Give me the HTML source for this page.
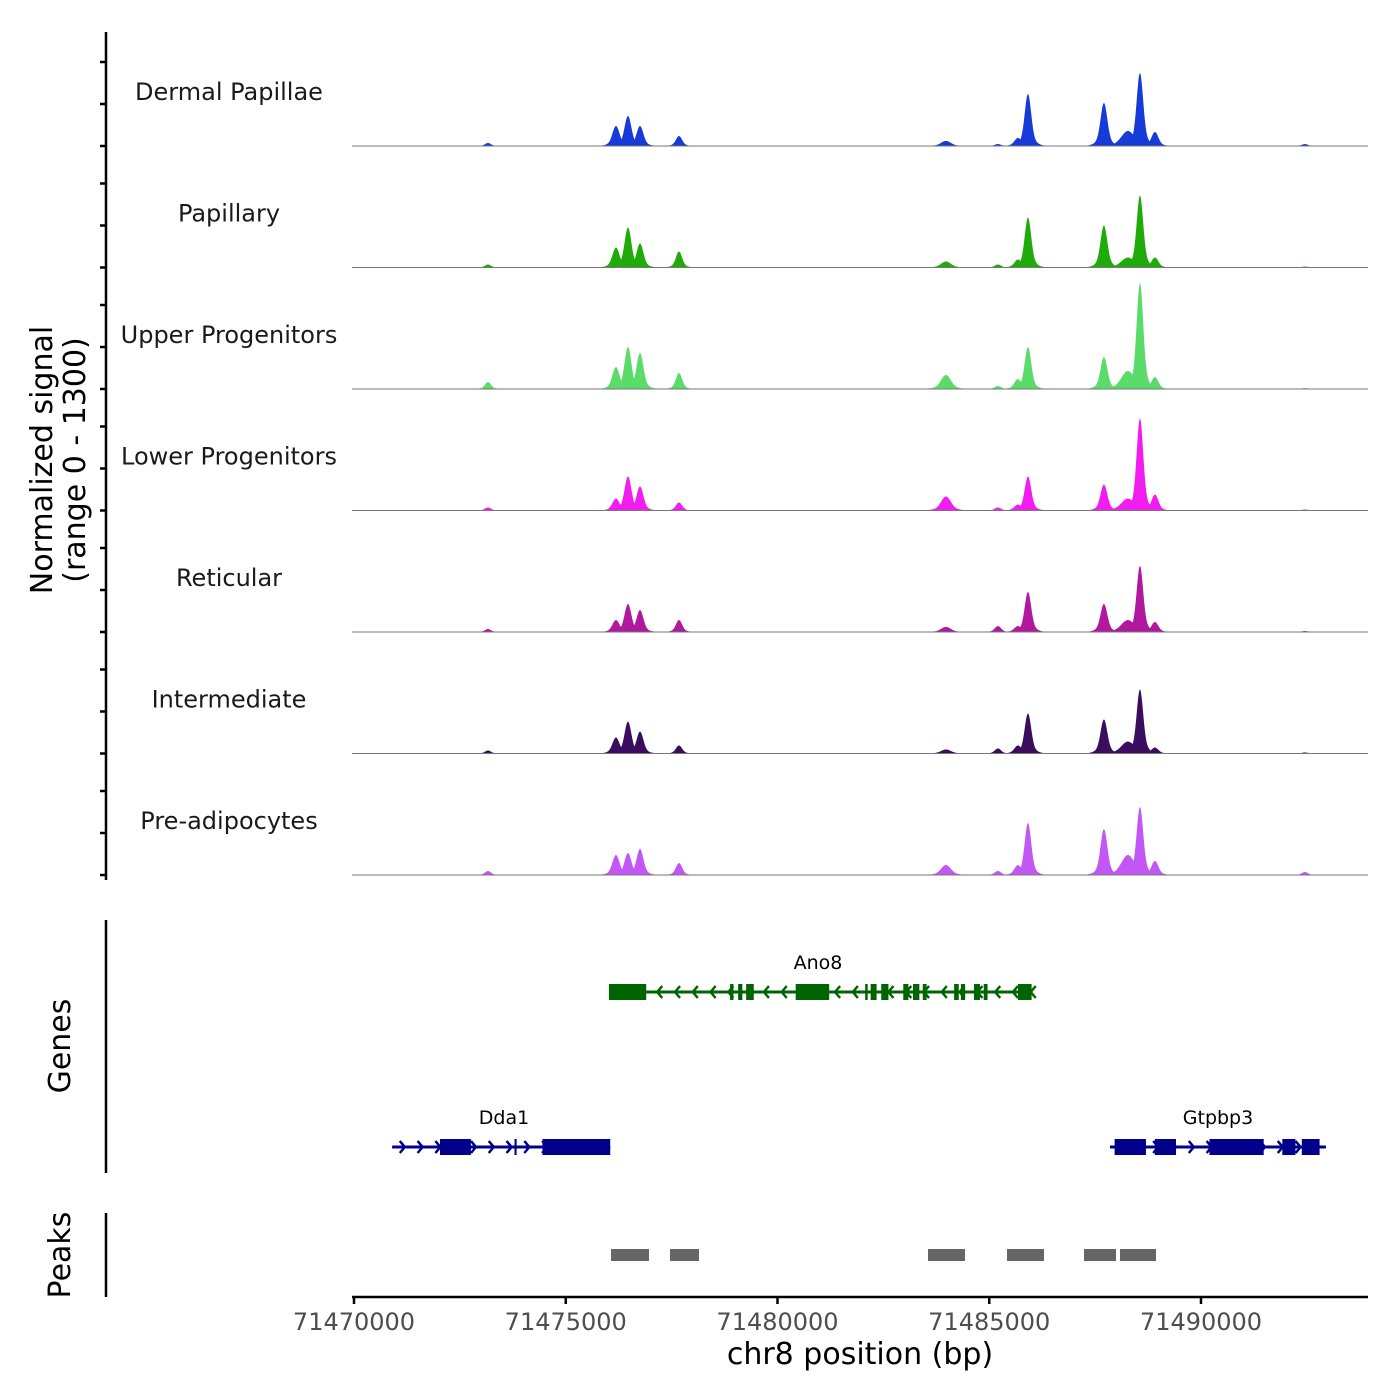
<!DOCTYPE html>
<html><head><meta charset="utf-8">
<style>
body{margin:0;background:#fff;}
svg{display:block;font-family:"DejaVu Sans","Liberation Sans",sans-serif;}
</style></head>
<body>
<svg id="chart" width="1400" height="1400" viewBox="0 0 1400 1400">
  <g id="tracks"></g>
  <line x1="106" y1="32" x2="106" y2="880" stroke="#000" stroke-width="2.5"/>
  <g id="yticks"></g>
  <text transform="translate(52,460) rotate(-90)" text-anchor="middle" font-size="30" fill="#000">Normalized signal</text>
  <text transform="translate(85,460) rotate(-90)" text-anchor="middle" font-size="30" fill="#000">(range 0 - 1300)</text>

  <line x1="106" y1="920" x2="106" y2="1173" stroke="#000" stroke-width="2.5"/>
  <text transform="translate(70,1046) rotate(-90)" text-anchor="middle" font-size="30" fill="#000">Genes</text>
  <g id="genes"></g>

  <line x1="106" y1="1213" x2="106" y2="1297" stroke="#000" stroke-width="2.5"/>
  <text transform="translate(70,1255) rotate(-90)" text-anchor="middle" font-size="30" fill="#000">Peaks</text>
  <g id="peaks"></g>

  <line x1="352" y1="1297" x2="1368" y2="1297" stroke="#000" stroke-width="2.5"/>
  <g id="xticks"></g>
  <text x="860" y="1364" text-anchor="middle" font-size="30" fill="#000">chr8 position (bp)</text>
</svg>
<script>
const trackNames = ["Dermal Papillae","Papillary","Upper Progenitors","Lower Progenitors","Reticular","Intermediate","Pre-adipocytes"];
const trackColors = ["#173bd9","#1fab0a","#5bdc6a","#f01cf0","#b0189e","#3b0d5e","#c257f5"];
const peakPositions = [71473164,71476186,71476469,71476753,71477674,71483978,71485205,71485678,71485914,71487708,71488275,71488558,71488912,71492454];
const peakWidths = [200,240,230,230,210,330,210,240,220,230,440,220,230,200];
const sigDermal = [32,214,321,214,107,54,21,86,556,460,161,781,150,21];
const sigPapillary = [32,214,428,257,171,64,32,86,535,449,107,770,107,11];
const sigUpper = [75,235,449,385,171,150,32,107,449,342,193,1134,128,11];
const sigLower = [32,128,364,257,86,150,32,64,364,278,128,984,171,11];
const sigReticular = [32,128,300,235,128,54,64,64,428,300,128,706,107,11];
const sigIntermediate = [32,171,342,235,86,43,54,86,428,364,128,685,64,11];
const sigPreadipo = [43,214,235,278,128,107,43,107,556,492,214,728,150,32];
const allSignals = [sigDermal,sigPapillary,sigUpper,sigLower,sigReticular,sigIntermediate,sigPreadipo];
const xTicks = [71470000,71475000,71480000,71485000,71490000];
const peakStarts = [71476069,71477462,71483554,71485419,71487237,71488087];
const peakEnds = [71476966,71478146,71484427,71486293,71487993,71488937];
const genes = [
 {name:"Ano8",start:71476020,end:71486010,strand:-1,row:0,color:"#006400",exons:[[71476020,71476900],[71478880,71478960],[71479070,71479170],[71479260,71479440],[71480430,71481220],[71482070,71482130],[71482200,71482340],[71482450,71482620],[71482970,71483090],[71483200,71483350],[71483430,71483520],[71484170,71484280],[71484330,71484430],[71484640,71484780],[71484870,71484960],[71485680,71486000]]},
 {name:"Dda1",start:71470900,end:71476050,strand:1,row:1,color:"#00008b",exons:[[71472030,71472760],[71473790,71473840],[71474450,71476050]]},
 {name:"Gtpbp3",start:71487850,end:71492950,strand:1,row:1,color:"#00008b",exons:[[71487960,71488700],[71488910,71489410],[71490200,71491480],[71491920,71492230],[71492380,71492800]]}
];
const NS="http://www.w3.org/2000/svg";
const X0=71470000, PX0=354, PXPER=847/20000;
const xs = bp => PX0 + (bp-X0)*PXPER;
const baseY = i => 146 + i*121.5;
const ys = (v,i) => baseY(i) - v*121.5/1300;
function mk(tag,attrs,parent){const e=document.createElementNS(NS,tag);for(const k in attrs)e.setAttribute(k,attrs[k]);parent.appendChild(e);return e;}
const tracks=document.getElementById('tracks');
allSignals.forEach((vals,i)=>{
  const g=mk('g',{},tracks);
  
  
  const t=mk('text',{x:229,y:baseY(i)-46,'text-anchor':'middle','font-size':24,fill:'#1a1a1a'},g);
  t.textContent=trackNames[i];
  
  
  let d='M352,'+baseY(i);
  for(let px=352;px<=1368;px+=0.5){
    const bp=X0+(px-PX0)/PXPER;
    let v=0;
    peakPositions.forEach((p,k)=>{const u=(bp-p)/peakWidths[k];const r=Math.exp(-u*u*4.5)*0.85+Math.exp(-u*u*0.9)*0.15;v=Math.max(v,vals[k]*r);});
    d+=' L'+px+','+ys(v,i).toFixed(2);
  }
  d+=' L1368,'+baseY(i)+' Z';
  const p=mk('path',{d:d,fill:trackColors[i]},g);
  
  
  const l=mk('line',{x1:352,x2:1368,y1:baseY(i),y2:baseY(i),stroke:'#777','stroke-width':1},g);
  
  
});
const yt=document.getElementById('yticks');
for(let i=0;i<7;i++){[0,42,84].forEach(o=>{const y=baseY(i)-o;const l=mk('line',{x1:100,x2:106,y1:y,y2:y,stroke:'#000','stroke-width':2.5},yt);});}
const gg=document.getElementById('genes');
genes.forEach(gn=>{
  const y= gn.row===0?992:1147;
  const g=mk('g',{},gg);
  
  
  mk('line',{x1:xs(gn.start),x2:xs(gn.end),y1:y,y2:y,stroke:gn.color,'stroke-width':3},g);
  for(let bp=gn.start+300;bp<gn.end;bp+=420){
    const x=xs(bp),s=gn.strand*5;
    mk('polyline',{points:(x-s)+','+(y-6)+' '+x+','+y+' '+(x-s)+','+(y+6),fill:'none',stroke:gn.color,'stroke-width':2.5},g);
  }
  gn.exons.forEach(e=>{const r=mk('rect',{x:xs(e[0]),y:y-8,width:Math.max(2,xs(e[1])-xs(e[0])),height:16,fill:gn.color},g);});
  const t=mk('text',{x:gn.row===0?818:(gn.name==="Dda1"?504:1218),y:y-23,'text-anchor':'middle','font-size':19,fill:'#000'},g);
  t.textContent=gn.name;
  
  
});
const pk=document.getElementById('peaks');
peakStarts.forEach((s,k)=>{const r=mk('rect',{x:xs(s),y:1249,width:xs(peakEnds[k])-xs(s),height:12,fill:'#666'},pk);});
const xt=document.getElementById('xticks');
xTicks.forEach(v=>{const x=xs(v);const l=mk('line',{x1:x,x2:x,y1:1297,y2:1304,stroke:'#000','stroke-width':2.5},xt);
  const t=mk('text',{x:x,y:1330,'text-anchor':'middle','font-size':24,fill:'#4d4d4d'},xt);t.textContent=v;});
</script>
</body></html>
